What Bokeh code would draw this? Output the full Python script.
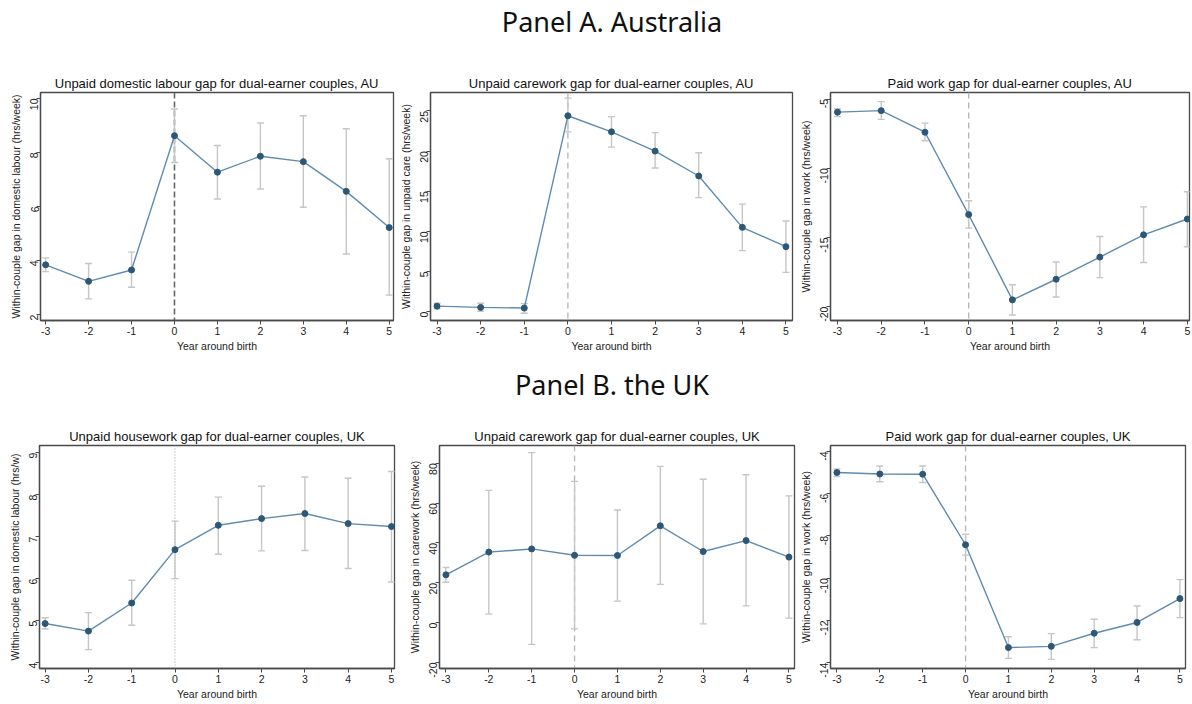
import math
from bokeh.plotting import figure
from bokeh.models import ColumnDataSource, Whisker, TeeHead, Span, Div, FixedTicker, Range1d
from bokeh.layouts import column, row
from bokeh.embed import file_html
from bokeh.resources import INLINE

# ---------------- data ----------------
years = [-3, -2, -1, 0, 1, 2, 3, 4, 5]
x_tick_labels = ["-3", "-2", "-1", "0", "1", "2", "3", "4", "5"]

au_domestic = [3.84, 3.23, 3.65, 8.62, 7.27, 7.86, 7.66, 6.56, 5.22]
au_domestic_lo = [3.59, 2.58, 3.01, 7.63, 6.28, 6.65, 5.97, 4.24, 2.72]
au_domestic_hi = [4.10, 3.89, 4.31, 9.61, 8.26, 9.09, 9.36, 8.88, 7.77]
au_domestic_yticks = [2, 4, 6, 8, 10]

au_care = [0.69, 0.53, 0.45, 24.4, 22.4, 20.0, 16.9, 10.5, 8.1]
au_care_lo = [0.35, 0.05, -0.2, 22.4, 20.5, 17.9, 14.2, 7.6, 4.9]
au_care_hi = [1.05, 1.05, 1.0, 26.6, 24.3, 22.3, 19.8, 13.4, 11.3]
au_care_yticks = [0, 5, 10, 15, 20, 25]

au_paid = [-5.95, -5.84, -7.40, -13.35, -19.51, -18.02, -16.42, -14.81, -13.67]
au_paid_lo = [-6.26, -6.47, -8.02, -14.33, -20.6, -19.3, -17.9, -16.81, -15.67]
au_paid_hi = [-5.70, -5.19, -6.74, -12.35, -18.42, -16.77, -14.93, -12.79, -11.70]
au_paid_yticks = [-5, -10, -15, -20]

uk_house = [4.93, 4.75, 5.42, 6.69, 7.27, 7.43, 7.55, 7.31, 7.24]
uk_house_lo = [4.80, 4.31, 4.89, 6.00, 6.58, 6.66, 6.67, 6.24, 5.92]
uk_house_hi = [5.07, 5.19, 5.96, 7.37, 7.94, 8.20, 8.42, 8.39, 8.55]
uk_house_yticks = [4, 5, 6, 7, 8, 9]

uk_care = [24.0, 35.4, 37.0, 33.8, 33.7, 48.6, 35.7, 41.2, 32.9]
uk_care_lo = [20.3, 4.3, -10.9, -3.1, 10.8, 19.2, -0.6, 8.4, 2.3]
uk_care_hi = [27.7, 66.4, 85.3, 70.9, 56.5, 78.4, 72.0, 74.2, 63.6]
uk_care_yticks = [-20, 0, 20, 40, 60, 80]

uk_paid = [-5.00, -5.07, -5.08, -8.42, -13.29, -13.23, -12.61, -12.10, -10.97]
uk_paid_lo = [-5.19, -5.44, -5.47, -8.91, -13.80, -13.85, -13.29, -12.92, -11.87]
uk_paid_hi = [-4.83, -4.69, -4.69, -7.92, -12.78, -12.63, -11.95, -11.32, -10.07]
uk_paid_yticks = [-4, -6, -8, -10, -12, -14]

heading_a = "Panel A. Australia"
heading_b = "Panel B. the UK"
x_label = "Year around birth"

# ---------------- styling ----------------
FONT = "Liberation Sans"
LINE_COLOR = "#5f8bb0"
MARKER_COLOR = "#2c5777"
CI_COLOR = "#c6c6c6"
FRAME_COLOR = "#4a4a4a"


def panel(title, ylabel, ys, lo, hi, yticks, xr, yr, width, height, borders, vline):
    left, right, top, bottom = borders
    p = figure(width=width, height=height, output_backend="svg", toolbar_location=None,
               x_range=Range1d(*xr), y_range=Range1d(*yr),
               min_border_left=left, min_border_right=right,
               min_border_top=top, min_border_bottom=bottom)
    src = ColumnDataSource(dict(x=years, y=ys, lo=lo, hi=hi))

    dash, vcol, vwidth = vline
    sp = Span(location=0, dimension="height", line_color=vcol, line_dash=dash,
              line_width=vwidth, level="underlay")
    p.add_layout(sp)

    wk = Whisker(source=src, base="x", upper="hi", lower="lo", line_color=CI_COLOR,
                 line_width=1.4, level="underlay",
                 upper_head=TeeHead(size=7, line_color=CI_COLOR, line_width=1.4),
                 lower_head=TeeHead(size=7, line_color=CI_COLOR, line_width=1.4))
    p.add_layout(wk)

    p.line("x", "y", source=src, line_color=LINE_COLOR, line_width=1.4)
    p.scatter("x", "y", source=src, size=6, fill_color=MARKER_COLOR,
              line_color=MARKER_COLOR)

    p.title.text = title
    p.title.align = "center"
    p.title.text_font = FONT
    p.title.text_font_size = "13px"
    p.title.text_font_style = "normal"
    p.title.text_color = "#111111"
    p.title.standoff = 3

    p.grid.visible = False
    p.outline_line_color = FRAME_COLOR
    p.outline_line_width = 1.3
    p.background_fill_color = "white"
    p.border_fill_color = "white"

    p.xaxis.ticker = FixedTicker(ticks=years)
    p.xaxis.major_label_overrides = {v: s for v, s in zip(years, x_tick_labels)}
    p.yaxis.ticker = FixedTicker(ticks=yticks)
    p.yaxis.major_label_overrides = {v: str(v) for v in yticks}
    p.yaxis.major_label_orientation = math.pi / 2
    p.xaxis.axis_label = x_label
    p.yaxis.axis_label = ylabel

    for ax in (p.xaxis, p.yaxis):
        ax.axis_line_color = FRAME_COLOR
        ax.axis_line_width = 1.3
        ax.major_tick_line_color = FRAME_COLOR
        ax.major_tick_out = 4
        ax.major_tick_in = 0
        ax.minor_tick_line_color = None
        ax.major_label_text_font = FONT
        ax.major_label_text_font_size = "10.5px"
        ax.major_label_text_color = "#222222"
        ax.major_label_standoff = 2
        ax.axis_label_text_font = FONT
        ax.axis_label_text_font_size = "10.5px"
        ax.axis_label_text_font_style = "normal"
        ax.axis_label_text_color = "#222222"
        ax.axis_label_standoff = 2
    return p


dash_dark = ("6 3", "#666666", 1.6)
dash_light = ("6 4", "#b5b5b5", 1.3)
dot_light = ("1 2", "#b5b5b5", 1.3)

pa1 = panel("Unpaid domestic labour gap for dual-earner couples, AU",
            "Within-couple gap in domestic labour (hrs/week)",
            au_domestic, au_domestic_lo, au_domestic_hi, au_domestic_yticks,
            (-3.12, 5.1), (1.78, 10.22), 396, 314, (40, 3, 48, 36), dash_dark)
pa2 = panel("Unpaid carework gap for dual-earner couples, AU",
            "Within-couple gap in unpaid care (hrs/week)",
            au_care, au_care_lo, au_care_hi, au_care_yticks,
            (-3.15, 5.15), (-1.1, 27.3), 400, 314, (33, 4, 45, 36), dash_light)
pa3 = panel("Paid work gap for dual-earner couples, AU",
            "Within-couple gap in work (hrs/week)",
            au_paid, au_paid_lo, au_paid_hi, au_paid_yticks,
            (-3.16, 5.05), (-21.0, -4.53), 396, 314, (31, 3, 40, 38), dash_light)

pb1 = panel("Unpaid housework gap for dual-earner couples, UK",
            "Within-couple gap in domestic labour (hrs/w)",
            uk_house, uk_house_lo, uk_house_hi, uk_house_yticks,
            (-3.13, 5.07), (3.86, 9.17), 396, 304, (39, 2, 40, 30), dot_light)
pb2 = panel("Unpaid carework gap for dual-earner couples, UK",
            "Within-couple gap in carework (hrs/week)",
            uk_care, uk_care_lo, uk_care_hi, uk_care_yticks,
            (-3.15, 5.13), (-23.0, 88.9), 400, 304, (43, 2, 41, 30), dash_light)
pb3 = panel("Paid work gap for dual-earner couples, UK",
            "Within-couple gap in work (hrs/week)",
            uk_paid, uk_paid_lo, uk_paid_hi, uk_paid_yticks,
            (-3.15, 5.13), (-14.28, -3.72), 396, 304, (29, 7, 47, 30), dash_light)

head_style = {"font-family": "Noto Sans", "font-size": "27px", "text-align": "center",
              "color": "#111111", "width": "1192px", "overflow": "visible"}
da = Div(text=f'<span style="position:relative;left:16px">{heading_a}</span>',
         width=1192, height=44, margin=0,
         styles=dict(head_style, **{"line-height": "44px", "height": "44px"}))
db = Div(text=f'<span style="position:relative;left:16px;top:7px">{heading_b}</span>',
         width=1192, height=40, margin=0,
         styles=dict(head_style, **{"line-height": "40px", "height": "40px"}))

layout = column(da, row(pa1, pa2, pa3, spacing=0), db, row(pb1, pb2, pb3, spacing=0),
                spacing=0)

open("out.html", "w").write(file_html(layout, INLINE))
